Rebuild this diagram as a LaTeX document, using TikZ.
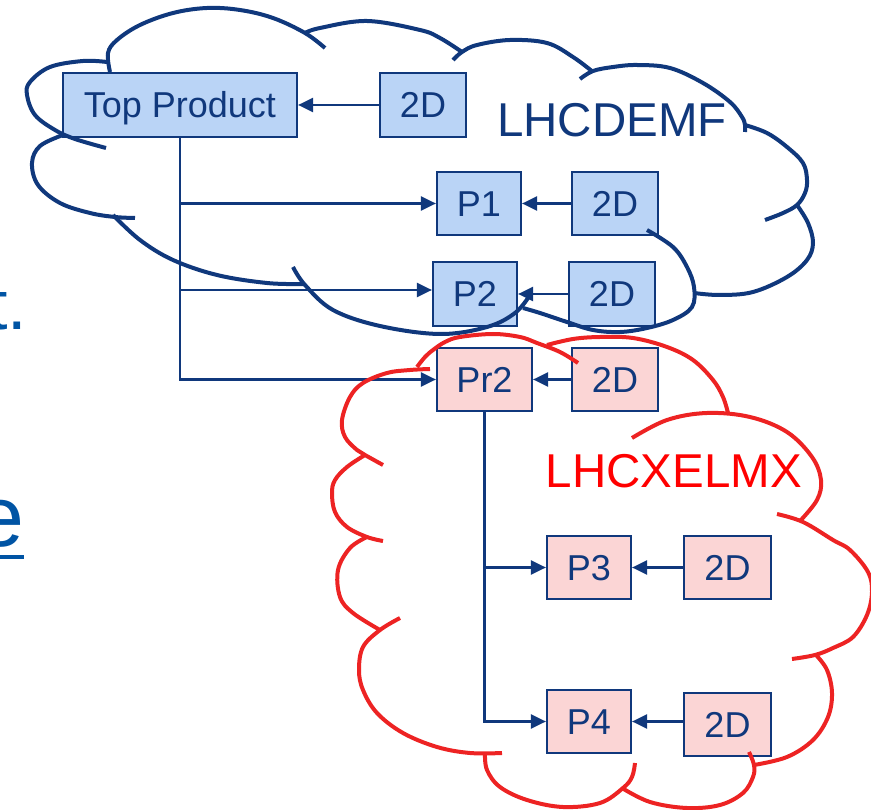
\documentclass[tikz,border=0pt]{standalone}
\usepackage{fontspec}
\setmainfont{Liberation Sans}
\usetikzlibrary{arrows.meta}
\definecolor{navy}{RGB}{16,56,124}
\definecolor{bfill}{RGB}{186,212,246}
\definecolor{pfill}{RGB}{251,213,213}
\definecolor{cred}{RGB}{237,35,35}
\definecolor{tred}{RGB}{255,0,0}
\definecolor{fragblue}{RGB}{0,84,164}
\begin{document}
\begin{tikzpicture}[x=1pt,y=1pt,
  box/.style={draw=navy, line width=2.2pt, text=navy, inner sep=0pt,
    text height=25.5pt, text depth=0pt, font=\fontsize{36}{42}\selectfont},
  bbox/.style={box, fill=bfill},
  pbox/.style={box, fill=pfill},
  conn/.style={draw=navy, line width=2.4pt, -{Triangle[length=15pt,width=14pt]}},
  bcloud/.style={draw=navy, line width=4pt},
  rcloud/.style={draw=cred, line width=4pt},
  lbl/.style={anchor=base west, inner sep=0pt, font=\fontsize{47.5}{56}\selectfont},
  frag/.style={anchor=base west, inner sep=0pt, text=fragblue},
  cplot/.style={smooth, tension=0.6}
  ]
\useasboundingbox (0,-810) rectangle (871,0);
\clip (0,-810) rectangle (871,0);

% fragments of slide text at left edge (cut off as in the reference)
\node[frag, font=\fontsize{70}{80}\selectfont] (fr1) at (-12,-330) {t.};
\node[frag, font=\fontsize{86}{96}\selectfont] (fr2) at (-24,-546) {e};
\draw[fragblue, line width=4pt] (-30,-557) -- (24,-557);

% boxes
\node[bbox, minimum width=234pt, minimum height=64pt] (tp) at (180,-105) {Top Product};
\node[bbox, minimum width=86pt, minimum height=64pt] (d0) at (423,-105) {2D};
\node[bbox, minimum width=84pt, minimum height=63pt] (p1) at (479,-203.5) {P1};
\node[bbox, minimum width=86pt, minimum height=63pt] (d1) at (615,-203.5) {2D};
\node[bbox, minimum width=84pt, minimum height=64pt] (p2) at (475,-294) {P2};
\node[bbox, minimum width=86pt, minimum height=64pt] (d2) at (612,-294) {2D};
\node[pbox, minimum width=95pt, minimum height=63pt] (pr2) at (484.5,-379.5) {Pr2};
\node[pbox, minimum width=86pt, minimum height=63pt] (d3) at (615,-379.5) {2D};
\node[pbox, minimum width=84pt, minimum height=63pt] (p3) at (589,-567.5) {P3};
\node[pbox, minimum width=87pt, minimum height=63pt] (d4) at (727.5,-567.5) {2D};
\node[pbox, minimum width=84pt, minimum height=63pt] (p4) at (589,-721.5) {P4};
\node[pbox, minimum width=87pt, minimum height=63pt] (d5) at (727.5,-724.5) {2D};

% connectors
\draw[conn] (d0.west) -- (tp.east);
\draw[conn] (tp.south) |- (p1.west);
\draw[conn] (tp.south) |- ([yshift=4pt]p2.west);
\draw[conn] (tp.south) |- (pr2.west);
\draw[conn] (d1.west) -- (p1.east);
\draw[conn] (d2.west) -- (p2.east);
\draw[conn] (d3.west) -- (pr2.east);
\draw[conn] (pr2.south) |- (p3.west);
\draw[conn] (pr2.south) |- (p4.west);
\draw[conn] (d4.west) -- (p3.east);
\draw[conn] (d5.west |- p4.east) -- (p4.east);

% blue cloud
\draw[bcloud] plot[cplot] coordinates {(107,-62) (83,-61) (50,-67) (30,-82) (27,-95) (35,-115) (55,-130) (75,-139) (106,-148)};
\draw[bcloud] plot[cplot] coordinates {(63,-135) (40,-146) (32,-163) (38,-185) (60,-203) (90,-213) (115,-217) (135,-218)};
\draw[bcloud] plot[cplot] coordinates {(113,-215) (140,-240) (173,-260) (217,-275) (267,-283) (303,-284)};
\draw[bcloud] plot[cplot] coordinates {(293,-267) (305,-285) (333,-310) (380,-326) (440,-334) (487,-327) (515,-313) (530,-295)};
\draw[bcloud] plot[cplot] coordinates {(647,-230) (673,-247) (687,-267) (694,-287) (692,-307) (673,-320) (647,-328) (620,-332) (593,-330) (567,-322) (540,-313) (523,-308)};
\draw[bcloud] plot[cplot] coordinates {(694,-293) (720,-295) (753,-292) (787,-277) (807,-260) (813,-243) (808,-223) (797,-205)};
\draw[bcloud] plot[cplot] coordinates {(765,-220) (783,-213) (797,-205) (805,-193) (807,-180) (803,-163) (787,-147) (767,-133) (745,-125)};
\draw[bcloud] plot[cplot] coordinates {(580,-79) (593,-71) (613,-67) (637,-65) (670,-68) (703,-83) (730,-102) (742,-117) (745,-125) (745,-132)};
\draw[bcloud] plot[cplot] coordinates {(453,-60) (462,-52) (477,-45) (510,-40) (547,-43) (573,-57) (593,-72)};
\draw[bcloud] plot[cplot] coordinates {(305,-33) (320,-28) (367,-21) (420,-30) (440,-38) (462,-52)};
\draw[bcloud] plot[cplot] coordinates {(110,-72) (108,-53) (117,-40) (140,-25) (173,-13) (207,-8) (240,-10) (273,-18) (305,-33) (325,-48)};

% red cloud
\draw[rcloud] plot[cplot] coordinates {(417,-367) (425,-357) (433,-350) (445,-342) (460,-337) (493,-334) (520,-337) (537,-343) (560,-352) (578,-363)};
\draw[rcloud] plot[cplot] coordinates {(430,-369) (410,-370) (387,-373) (363,-383) (350,-397) (342,-420) (345,-437) (357,-450) (365,-455) (383,-465)};
\draw[rcloud] plot[cplot] coordinates {(365,-455) (347,-467) (335,-480) (332,-493) (335,-512) (347,-527) (367,-537) (383,-541)};
\draw[rcloud] plot[cplot] coordinates {(367,-537) (350,-548) (338,-570) (340,-597) (353,-613) (380,-630)};
\draw[rcloud] plot[cplot] coordinates {(400,-618) (380,-630) (363,-647) (359,-670) (363,-690) (377,-713) (403,-733) (437,-747) (470,-753) (502,-753)};
\draw[rcloud] plot[cplot] coordinates {(485,-753) (487,-770) (500,-787) (527,-800) (563,-807) (600,-803) (623,-788) (632,-777) (635,-763)};
\draw[rcloud] plot[cplot] coordinates {(622,-788) (650,-802) (687,-808) (720,-805) (743,-793) (753,-777) (754,-765) (749,-752)};
\draw[rcloud] plot[cplot] coordinates {(754,-765) (787,-757) (813,-740) (828,-717) (832,-693) (827,-670) (816,-655)};
\draw[rcloud] plot[cplot] coordinates {(792,-659) (815,-655) (833,-648) (853,-637) (867,-615) (872,-592) (868,-572) (850,-550) (833,-540) (803,-522) (777,-514)};
\draw[rcloud] plot[cplot] coordinates {(632,-438) (667,-420) (707,-413) (750,-417) (787,-432) (812,-457) (821,-480) (817,-500) (800,-521)};
\draw[rcloud] plot[cplot] coordinates {(547,-345) (573,-339) (600,-337) (633,-338) (667,-347) (693,-360) (713,-380) (723,-397) (728,-413)};

% cloud labels
\node[lbl, text=navy] (lhcdemf) at (497,-137) {LHCDEMF};
\node[lbl, text=tred] (lhcxelmx) at (545.5,-487) {LHCXELMX};
\end{tikzpicture}
\end{document}
